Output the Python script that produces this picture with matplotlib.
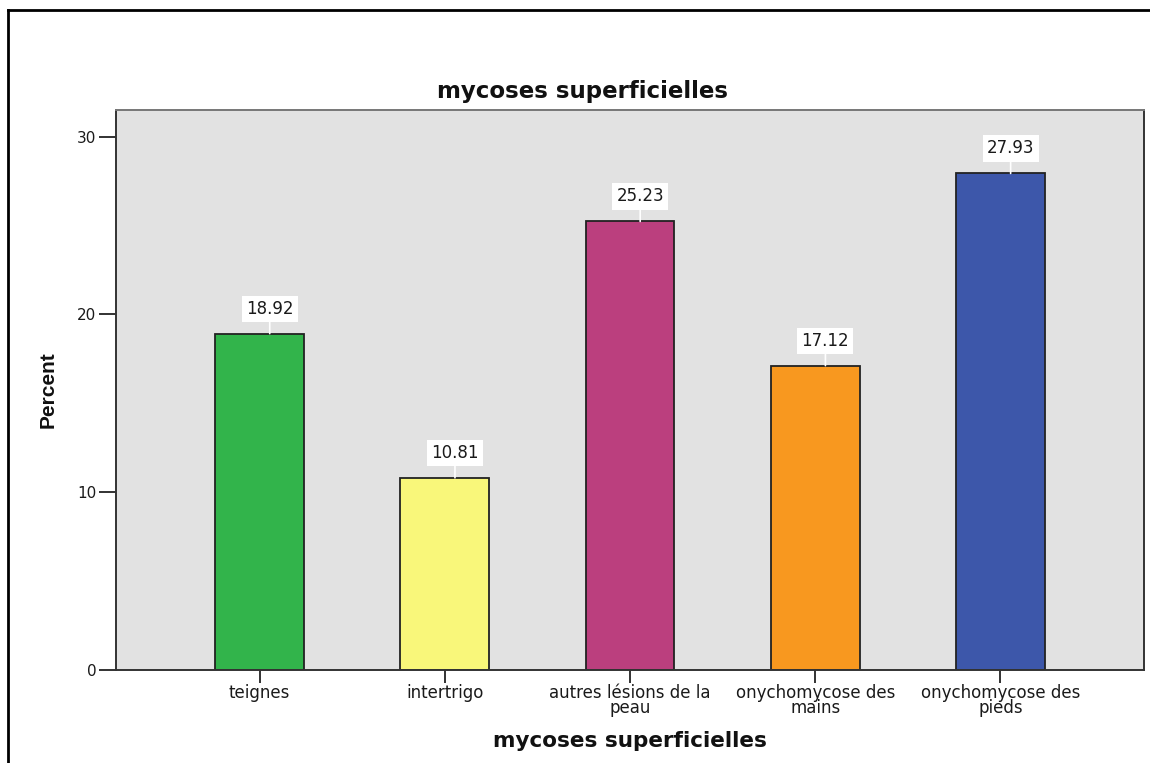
import matplotlib
matplotlib.use("Agg")
import matplotlib.pyplot as plt
from matplotlib.lines import Line2D

categories = ["teignes", "intertrigo", "autres lésions de la\npeau",
              "onychomycose des\nmains", "onychomycose des\npieds"]
percents = [18.92, 10.81, 25.23, 17.12, 27.93]
colors = ["#32b44b", "#f9f77a", "#bb3f7e", "#f8981f", "#3d57aa"]
yticks = [0, 10, 20, 30]

W, H = 1150, 763
fig = plt.figure(figsize=(W / 100, H / 100), dpi=100)
fig.patch.set_facecolor("white")

ax = fig.add_axes([116 / W, 1 - 670 / H, (1144 - 116) / W, (670 - 110) / H])
ax.set_facecolor("#e2e2e2")

x = list(range(len(categories)))
bars = ax.bar(x, percents, width=0.48, color=colors, edgecolor="#222222",
              linewidth=1.3, zorder=2)

ax.set_xlim(-0.775, 4.775)
ax.set_ylim(0, 31.5)
ax.set_yticks(yticks)
ax.set_xticks(x)
ax.set_xticklabels(categories, fontsize=12, family="DejaVu Sans",
                   linespacing=0.8, color="#1a1a1a")
ax.set_yticklabels([str(t) for t in yticks], fontsize=11, family="DejaVu Sans",
                   color="#1a1a1a")
ax.tick_params(axis="y", length=12, width=1.3, pad=2, color="#222222")
ax.tick_params(axis="x", length=9, width=1.3, pad=1, color="#222222")

for side in ["left", "bottom", "right", "top"]:
    ax.spines[side].set_linewidth(1.4)
    ax.spines[side].set_color("#333333")
ax.spines["top"].set_color("#777777")

# value labels in white boxes with a short connector to the bar top
for xi, v in zip(x, percents):
    ax.annotate(f"{v:.2f}", xy=(xi + 0.055, v), xytext=(0, 11.5),
                textcoords="offset points", ha="center", va="bottom",
                fontsize=12, family="DejaVu Sans", color="#1a1a1a",
                bbox=dict(boxstyle="square,pad=0.25", fc="white", ec="none"),
                arrowprops=dict(arrowstyle="-", color="white", lw=1.2,
                                shrinkA=0, shrinkB=0),
                zorder=3)

fig.text(582 / W, 1 - 98 / H, "mycoses superficielles", ha="center",
         va="baseline", fontsize=16.5, fontweight="bold", family="DejaVu Sans",
         color="#111111")
ax.set_xlabel("mycoses superficielles", fontsize=15.5, fontweight="bold",
              family="DejaVu Sans", labelpad=10, color="#111111")
ax.set_ylabel("Percent", fontsize=15, fontweight="bold",
              family="Liberation Sans", labelpad=14, color="#111111")

# outer frame (top and left edges)
fig.add_artist(Line2D([8 / W, 8 / W], [0, 1 - 10 / H], transform=fig.transFigure,
                      color="black", lw=2))
fig.add_artist(Line2D([8 / W, 1], [1 - 10 / H, 1 - 10 / H], transform=fig.transFigure,
                      color="black", lw=2))

fig.savefig("out.png", dpi=100)
